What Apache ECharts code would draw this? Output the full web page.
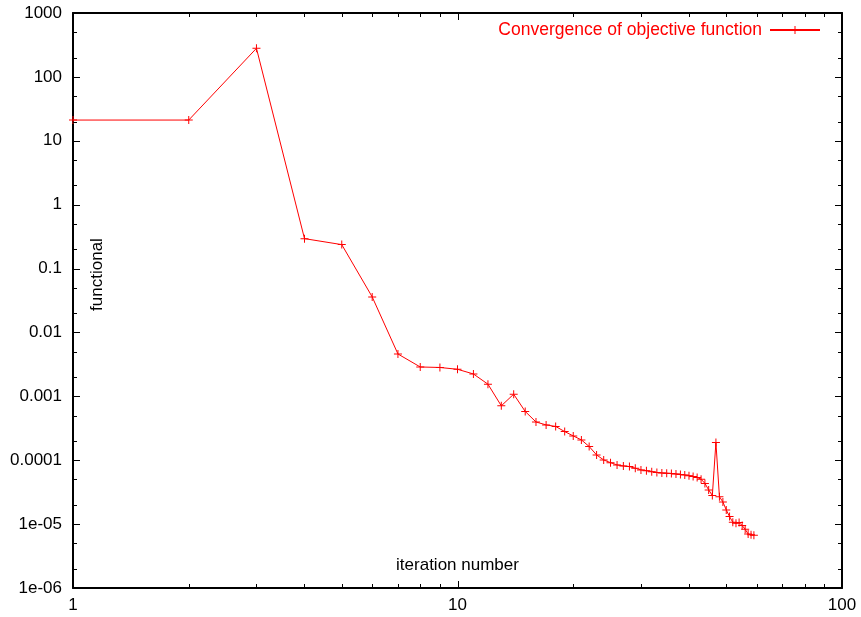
<!DOCTYPE html>
<html>
<head>
<meta charset="utf-8">
<script src="https://cdn.jsdelivr.net/npm/echarts@6/dist/echarts.min.js"></script>
<style>
html,body{margin:0;padding:0;background:#fff;}
#chart{width:861px;height:617px;}
</style>
</head>
<body>
<div id="chart"></div>
<script>
// ---- data ----
var iterations = [1,2,3,4,5,6,7,8,9,10,11,12,13,14,15,16,17,18,19,20,21,22,23,24,25,26,27,28,29,30,31,32,33,34,35,36,37,38,39,40,41,42,43,44,45,46,47,48,49,50,51,52,53,54,55,56,57,58,59];
var functional = [21.1,21.1,280,0.294,0.237,0.036,0.0046,0.00288,0.00283,0.00265,0.00224,0.00155,0.00071,0.00108,0.00058,0.000397,0.000357,0.000338,0.000281,0.00024,0.000208,0.000164,0.000121,0.000101,0.0000917,0.0000844,0.0000814,0.0000794,0.000075,0.0000705,0.0000687,0.0000663,0.0000644,0.0000632,0.0000626,0.0000617,0.0000611,0.00006,0.0000589,0.0000574,0.0000558,0.0000538,0.0000505,0.0000434,0.0000343,0.0000281,0.00019,0.0000269,0.0000222,0.0000167,0.0000131,0.0000107,0.0000103,0.0000106,0.0000095,0.0000083,0.000007,0.0000068,0.0000067];
var seriesName = 'Convergence of objective function';
var xLabel = 'iteration number';
var yLabel = 'functional';
var xTickValues = [1,10,100];
var xTickLabels = ['1','10','100'];
var xMinorTicks = [2,3,4,5,6,7,8,9,20,30,40,50,60,70,80,90];
var yTickValues = [1e-6,1e-5,1e-4,1e-3,1e-2,1e-1,1,10,100,1000];
var yTickLabels = ['1e-06','1e-05','0.0001','0.001','0.01','0.1','1','10','100','1000'];
var yMinorTicks = [2e-6,5e-6,2e-5,5e-5,2e-4,5e-4,2e-3,5e-3,2e-2,5e-2,0.2,0.5,2,5,20,50,200,500];

var FONT = '"Liberation Sans", Arial, Helvetica, sans-serif';
var chart = echarts.init(document.getElementById('chart'), null, {renderer:'canvas'});

function labelFor(vals, labels){
  return function(v){
    for (var i=0;i<vals.length;i++){ if (Math.abs(Math.log10(v)-Math.log10(vals[i]))<1e-6) return labels[i]; }
    return '';
  };
}
var borderStyle = {color:'#000', width:2};
var XR = {min:1, max:100};
var YR = {min:1e-6, max:1000};

function labelAxis(range, pos, showLine, vals, labels, margin){
  return {
    type:'log', logBase:10, min:range.min, max:range.max, position:pos,
    axisLine:{show:showLine, lineStyle:borderStyle},
    axisTick:{show:false},
    axisLabel:{show:!!vals, customValues:vals || undefined, formatter:vals ? labelFor(vals, labels) : undefined,
      color:'#000', fontSize:17, fontFamily:FONT, margin:margin},
    splitLine:{show:false}
  };
}
var xAxes = [labelAxis(XR, 'bottom', true, xTickValues, xTickLabels, 9), labelAxis(XR, 'top', true, null, null, 9)];
xAxes[0].name = xLabel;
xAxes[0].nameLocation = 'middle';
xAxes[0].nameGap = -31;
xAxes[0].nameTextStyle = {color:'#000', fontSize:17, fontFamily:FONT};
var yAxes = [labelAxis(YR, 'left', true, yTickValues, yTickLabels, 11), labelAxis(YR, 'right', true, null, null, 11)];
yAxes[0].name = yLabel;
yAxes[0].nameLocation = 'middle';
yAxes[0].nameGap = -33;
yAxes[0].nameTextStyle = {color:'#000', fontSize:17, fontFamily:FONT, padding:[0,0,0,52]};

var plus = 'path://M0,3.5 H8 V4.5 H0 Z M3.5,0 H4.5 V8 H3.5 Z';
chart.setOption({
  animation:false,
  backgroundColor:'#fff',
  grid:{left:73, right:19, top:13, bottom:29},
  legend:{
    show:true, right:35, top:16, align:'right', itemWidth:50, itemHeight:10,
    data:[{name:seriesName}],
    textStyle:{color:'#ff0000', fontSize:17.5, fontFamily:FONT, padding:[0,3,0,0]}
  },
  xAxis:xAxes,
  yAxis:yAxes,
  series:[{
    name:seriesName, type:'line', xAxisIndex:0, yAxisIndex:0,
    data:iterations.map(function(n,i){return [n, functional[i]];}),
    symbol:plus, symbolSize:8, showSymbol:true,
    lineStyle:{color:'#ff0000', width:1},
    itemStyle:{color:'#ff0000'},
    emphasis:{disabled:true}
  }]
});

// inward tick marks on all four sides, positioned through the axes' own scales
(function(){
  var MAJOR = 7, MINOR = 4;
  var xL = chart.convertToPixel({xAxisIndex:0}, XR.min);
  var xRt = chart.convertToPixel({xAxisIndex:0}, XR.max);
  var yB = chart.convertToPixel({yAxisIndex:0}, YR.min);
  var yT = chart.convertToPixel({yAxisIndex:0}, YR.max);
  var els = [];
  function seg(x1,y1,x2,y2){
    els.push({type:'line', silent:true, z:10, shape:{x1:x1,y1:y1,x2:x2,y2:y2}, style:{stroke:'#000', lineWidth:1}});
  }
  function xt(vals, len){
    vals.forEach(function(v){
      var x = Math.round(chart.convertToPixel({xAxisIndex:0}, v)) + 0.5;
      seg(x, yB, x, yB - len);
      seg(x, yT, x, yT + len);
    });
  }
  function yt(vals, len){
    vals.forEach(function(v){
      var y = Math.round(chart.convertToPixel({yAxisIndex:0}, v)) + 0.5;
      seg(xL, y, xL + len, y);
      seg(xRt, y, xRt - len, y);
    });
  }
  xt(xTickValues, MAJOR); xt(xMinorTicks, MINOR);
  yt(yTickValues, MAJOR); yt(yMinorTicks, MINOR);
  chart.setOption({graphic:{elements:els}});
})();
</script>
</body>
</html>
